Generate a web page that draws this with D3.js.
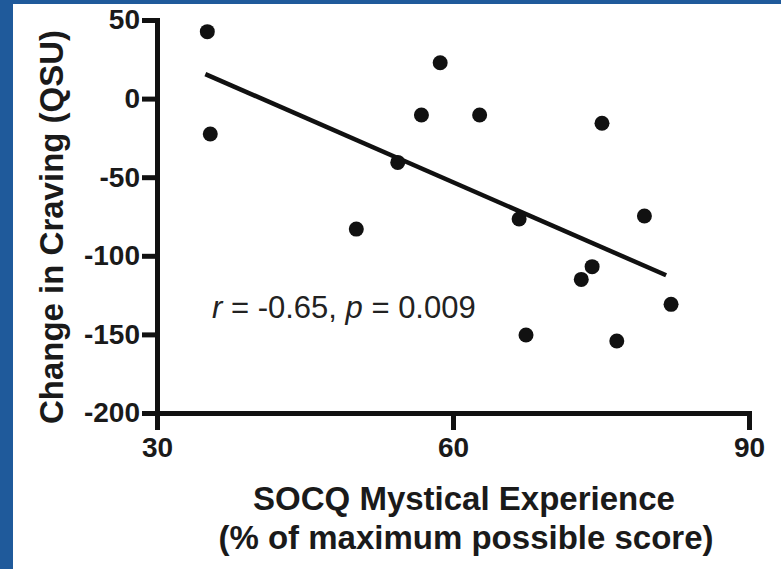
<!DOCTYPE html>
<html>
<head>
<meta charset="utf-8">
<script src="https://cdn.jsdelivr.net/npm/d3@7"></script>
<style>
  body { margin: 0; background: #fff; }
  svg { display: block; }
  .axis text { font-family: "Liberation Sans", Arial, sans-serif; font-weight: bold; fill: #1a1a1a; }
</style>
</head>
<body>
<svg width="781" height="569"></svg>
<script>
// SOCQ score (x) vs change in craving (y)
var mystical = [35.1, 35.4, 58.7, 56.8, 62.7, 54.4, 75.1, 50.2, 66.7, 79.4, 74.1, 73.0, 82.1, 67.4, 76.6];
var craving  = [42.6, -22.5, 22.8, -10.4, -10.4, -40.6, -15.7, -83, -76.6, -74.7, -106.9, -115, -130.9, -150.4, -154.2];

// regression line end points
var fitX = [34.9, 81.6];
var fitY = [15.6, -112.4];

var xTicks = [30, 60, 90];
var yTicks = [50, 0, -50, -100, -150, -200];

var svg = d3.select("svg");

// blue frame of the slide
svg.append("rect").attr("x", 0).attr("y", 0).attr("width", 13).attr("height", 569).attr("fill", "#1f5a9b");
svg.append("rect").attr("x", 0).attr("y", 0).attr("width", 781).attr("height", 4).attr("fill", "#1f5a9b");

var x = d3.scaleLinear().domain([30, 90]).range([157, 749]);
var y = d3.scaleLinear().domain([-200, 50]).range([413, 20]);

// plain hyphen for negatives, like the original
var fmt = function(d) { return String(d); };

var gx = svg.append("g")
    .attr("class", "axis")
    .attr("transform", "translate(0," + y(-200) + ")")
    .call(d3.axisBottom(x).tickValues(xTicks).tickFormat(fmt).tickSizeInner(17).tickSizeOuter(0).tickPadding(7));

var gy = svg.append("g")
    .attr("class", "axis")
    .attr("transform", "translate(" + x(30) + ",0)")
    .call(d3.axisLeft(y).tickValues(yTicks).tickFormat(fmt).tickSizeInner(15).tickSizeOuter(0).tickPadding(2));

svg.selectAll(".axis path, .axis line")
    .attr("stroke", "#111")
    .attr("stroke-width", 5);
svg.selectAll(".axis path").attr("stroke-linecap", "square");
svg.selectAll(".axis text").attr("font-size", 28);

// fitted line
var line = d3.line()
    .x(function(d) { return x(d[0]); })
    .y(function(d) { return y(d[1]); });

svg.append("path")
    .datum(d3.zip(fitX, fitY))
    .attr("d", line)
    .attr("fill", "none")
    .attr("stroke", "#111")
    .attr("stroke-width", 4.5);

svg.append("g")
  .selectAll("circle")
  .data(d3.zip(mystical, craving))
  .join("circle")
    .attr("cx", function(d) { return x(d[0]); })
    .attr("cy", function(d) { return y(d[1]); })
    .attr("r", 7.5)
    .attr("fill", "#111");

// annotation
var note = svg.append("text")
    .attr("x", 212)
    .attr("y", 318)
    .attr("font-family", "Liberation Sans, Arial, sans-serif")
    .attr("font-size", 31)
    .attr("fill", "#222");
note.append("tspan").attr("font-style", "italic").text("r");
note.append("tspan").text(" = -0.65, ");
note.append("tspan").attr("font-style", "italic").text("p");
note.append("tspan").text(" = 0.009");

// axis titles
var xt = svg.append("text")
    .attr("text-anchor", "middle")
    .attr("font-family", "Liberation Sans, Arial, sans-serif")
    .attr("font-weight", "bold")
    .attr("font-size", 33)
    .attr("fill", "#1a1a1a");
xt.append("tspan").attr("x", 464).attr("y", 510).text("SOCQ Mystical Experience");
xt.append("tspan").attr("x", 466).attr("y", 549).text("(% of maximum possible score)");

svg.append("text")
    .attr("transform", "translate(63,227) rotate(-90)")
    .attr("text-anchor", "middle")
    .attr("font-family", "Liberation Sans, Arial, sans-serif")
    .attr("font-weight", "bold")
    .attr("font-size", 33)
    .attr("fill", "#1a1a1a")
    .text("Change in Craving (QSU)");
</script>
</body>
</html>
